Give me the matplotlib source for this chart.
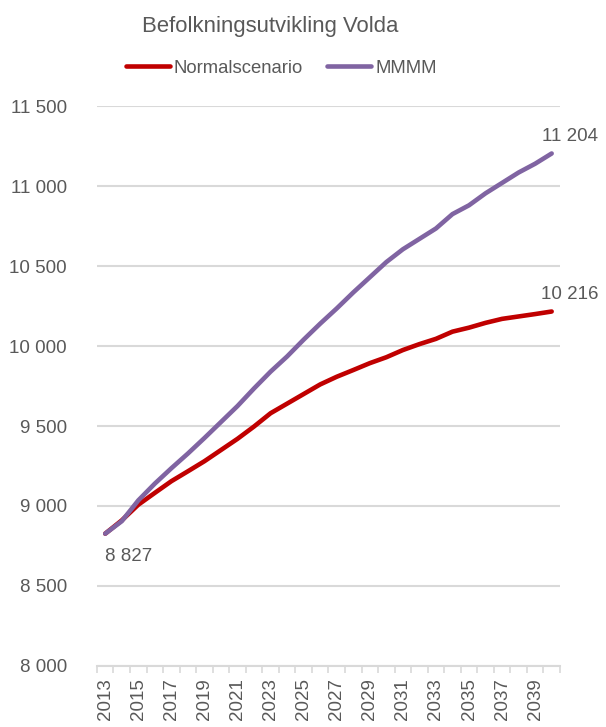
import matplotlib.pyplot as plt
import numpy as np

plt.rcParams['font.family'] = ['Liberation Sans', 'DejaVu Sans']

years = list(range(2013, 2041))
normal = [8827, 8910, 9008, 9082, 9155, 9217, 9280, 9350, 9420, 9497,
          9580, 9640, 9700, 9760, 9808, 9850, 9893, 9930, 9975, 10012,
          10045, 10090, 10115, 10145, 10170, 10185, 10200, 10216]
mmmm = [8827, 8905, 9035, 9140, 9236, 9328, 9425, 9525, 9625, 9735,
        9840, 9935, 10040, 10140, 10235, 10335, 10430, 10525, 10605, 10670,
        10735, 10825, 10880, 10955, 11020, 11085, 11140, 11204]

txt = '#595959'
grid = '#d9d9d9'
fs = 13.5

fig = plt.figure(figsize=(6.06, 7.27), dpi=100)
ax = fig.add_axes([0.160, 0.084, 0.764, 0.770])

x = np.arange(len(years))
ax.plot(x, normal, color='#C00000', lw=3.3, solid_capstyle='round', label='Normalscenario', zorder=3)
ax.plot(x, mmmm, color='#8064A2', lw=3.3, solid_capstyle='round', label='MMMM', zorder=4)

ax.set_xlim(-0.5, len(years) - 0.5)
ax.set_ylim(8000, 11500)
ax.set_yticks(np.arange(8000, 11501, 500))
ax.set_yticklabels([f'{v:,}'.replace(',', ' ') for v in range(8000, 11501, 500)])
ax.yaxis.grid(True, color=grid, lw=1.5)
ax.set_axisbelow(True)

ax.set_xticks(x[::2])
ax.set_xticklabels([str(y) for y in years[::2]], rotation=90)
ax.set_xticks(np.arange(-0.5, len(years)), minor=True)
ax.tick_params(axis='x', which='major', length=0, pad=9, labelsize=fs, colors=txt)
ax.tick_params(axis='x', which='minor', length=5, width=1.2, color=grid)
ax.tick_params(axis='y', length=0, pad=21.5, labelsize=fs, colors=txt)

for s in ['top', 'right', 'left']:
    ax.spines[s].set_visible(False)
ax.spines['bottom'].set_color(grid)
ax.spines['bottom'].set_linewidth(1.5)

ax.annotate(f'{normal[0]:,}'.replace(',', ' '), (x[0], normal[0]), xytext=(0, -10),
            textcoords='offset points', ha='left', va='top', fontsize=fs, color=txt)
ax.annotate(f'{mmmm[-1]:,}'.replace(',', ' '), (x[-1], mmmm[-1]), xytext=(13, 6),
            textcoords='offset points', ha='center', va='bottom', fontsize=fs, color=txt)
ax.annotate(f'{normal[-1]:,}'.replace(',', ' '), (x[-1], normal[-1]), xytext=(13, 6),
            textcoords='offset points', ha='center', va='bottom', fontsize=fs, color=txt)

fig.text(0.446, 0.964, 'Befolkningsutvikling Volda', ha='center', va='center', fontsize=15.9, color=txt)
fig.legend(loc='center', bbox_to_anchor=(0.464, 0.906), ncol=2, frameon=False,
           fontsize=13.3, labelcolor=txt, handlelength=2.4, handletextpad=0.2, columnspacing=1.3)

fig.savefig('out.png', dpi=100)
